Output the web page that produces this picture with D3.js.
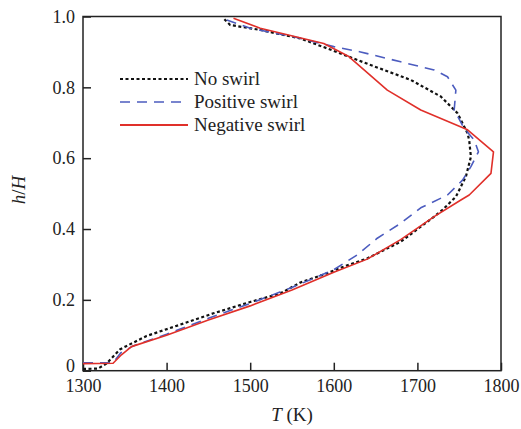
<!DOCTYPE html>
<html>
<head>
<meta charset="utf-8">
<script src="https://cdn.jsdelivr.net/npm/d3@7"></script>
<style>
  body { margin: 0; background: #fff; }
  svg { font-family: "Liberation Serif", "DejaVu Serif", serif; }
</style>
</head>
<body>
<div class="chart"></div>
<script>
// T (K) vs h/H
const noSwirl = [
  [1300,0.005],[1318,0.006],[1328,0.02],[1334,0.035],[1344,0.06],[1376,0.098],
  [1420,0.133],[1456,0.162],[1500,0.194],[1536,0.218],[1560,0.249],[1592,0.275],
  [1612,0.294],[1640,0.317],[1680,0.364],[1720,0.435],[1730,0.454],[1746,0.491],
  [1758,0.548],[1764,0.604],[1762,0.65],[1760,0.67],[1748,0.727],[1728,0.774],
  [1692,0.821],[1644,0.863],[1592,0.91],[1560,0.938],[1512,0.962],[1476,0.976],[1468,0.995]
];
const posSwirl = [
  [1300,0.022],[1336,0.022],[1345,0.05],[1360,0.07],[1400,0.103],[1450,0.148],
  [1500,0.19],[1550,0.235],[1600,0.285],[1628,0.327],[1652,0.374],[1680,0.416],
  [1704,0.46],[1736,0.496],[1754,0.538],[1764,0.576],[1773,0.618],[1768,0.651],
  [1756,0.684],[1744,0.736],[1746,0.792],[1736,0.83],[1720,0.849],[1680,0.872],
  [1632,0.9],[1600,0.915],[1552,0.943],[1500,0.967],[1472,0.99]
];
const negSwirl = [
  [1300,0.02],[1336,0.021],[1346,0.045],[1358,0.068],[1400,0.10],[1450,0.143],
  [1500,0.183],[1550,0.228],[1600,0.278],[1640,0.315],[1680,0.37],[1720,0.435],
  [1752,0.482],[1762,0.496],[1788,0.557],[1791,0.618],[1760,0.68],[1704,0.736],
  [1664,0.792],[1618,0.887],[1588,0.924],[1512,0.967],[1480,0.995]
];
const seriesNames = ["No swirl", "Positive swirl", "Negative swirl"];
const xTicks = [1300, 1400, 1500, 1600, 1700, 1800];
const yTicks = [0, 0.2, 0.4, 0.6, 0.8, 1.0];

const width = 521, height = 429;
const mLeft = 83, mRight = 501, mTop = 16.5, mBottom = 370.7;

const svg = d3.select(".chart").append("svg")
    .attr("width", width)
    .attr("height", height);

const x = d3.scaleLinear().domain([1300, 1800]).range([mLeft, mRight]);
const y = d3.scaleLinear().domain([0, 1]).range([mBottom, mTop]);

// axes, ticks point inward
const xAxis = svg.append("g")
    .attr("transform", `translate(0,${mBottom})`)
    .call(d3.axisBottom(x).tickValues(xTicks).tickSize(-8).tickPadding(9).tickFormat(d3.format("d")));
const yAxis = svg.append("g")
    .attr("transform", `translate(${mLeft},0)`)
    .call(d3.axisLeft(y).tickValues(yTicks).tickSize(-8).tickPadding(8)
      .tickFormat(d => d === 0 ? "0" : d3.format(".1f")(d)));

[xAxis, yAxis].forEach(a => {
  a.attr("font-family", null).attr("font-size", null);
  a.select(".domain").remove();
  a.selectAll(".tick line").attr("stroke", "#222").attr("stroke-width", 1.5);
  a.selectAll(".tick text")
    .style("font-size", "18px")
    .style("font-family", "'Liberation Serif', serif")
    .attr("fill", "#222");
});
// lift the "0" a little off the 1300 label
yAxis.selectAll(".tick text").filter(d => d === 0).attr("dy", "0.05em");

svg.append("rect")
    .attr("x", mLeft).attr("y", mTop)
    .attr("width", mRight - mLeft).attr("height", mBottom - mTop)
    .attr("fill", "none")
    .attr("stroke", "#222")
    .attr("stroke-width", 1.5);

const styles = [
  {color: "#111", dash: "3,2.5", w: 2.2},
  {color: "#4c5cbf", dash: "10,7", w: 1.6},
  {color: "#e0302a", dash: null, w: 1.6}
];

const line = d3.line().x(d => x(d[0])).y(d => y(d[1]));

[noSwirl, posSwirl, negSwirl].forEach((data, i) => {
  svg.append("path")
      .datum(data)
      .attr("d", line)
      .attr("fill", "none")
      .attr("stroke", styles[i].color)
      .attr("stroke-width", styles[i].w)
      .attr("stroke-dasharray", styles[i].dash)
      .attr("stroke-linejoin", "round");
});

// legend
const legY = [79, 102, 125];
const leg = svg.append("g");
seriesNames.forEach((name, i) => {
  leg.append("line")
      .attr("x1", 120).attr("x2", 188)
      .attr("y1", legY[i]).attr("y2", legY[i])
      .attr("stroke", styles[i].color)
      .attr("stroke-width", i === 2 ? 2 : styles[i].w)
      .attr("stroke-dasharray", styles[i].dash);
  leg.append("text")
      .attr("x", 194)
      .attr("y", legY[i] + 6)
      .attr("font-size", 19)
      .attr("fill", "#222")
      .text(name);
});

// axis titles
const xt = svg.append("text")
    .attr("x", 292)
    .attr("y", 421)
    .attr("text-anchor", "middle")
    .attr("font-size", 19)
    .attr("fill", "#222");
xt.append("tspan").attr("font-style", "italic").text("T");
xt.append("tspan").text(" (K)");

const yt = svg.append("text")
    .attr("transform", "translate(25,190) rotate(-90)")
    .attr("text-anchor", "middle")
    .attr("font-size", 19)
    .attr("fill", "#222");
yt.append("tspan").attr("font-style", "italic").text("h");
yt.append("tspan").text("/");
yt.append("tspan").attr("font-style", "italic").text("H");
</script>
</body>
</html>
